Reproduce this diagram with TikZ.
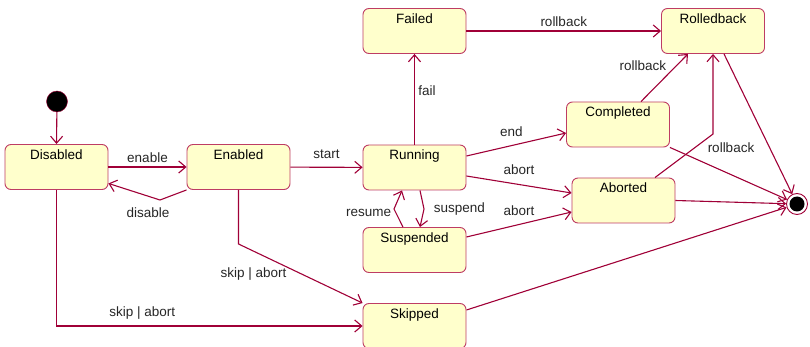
\documentclass[tikz,border=0pt]{standalone}
\usepackage{fontspec}
\setmainfont{Liberation Sans}
\usepackage{tikz}
\usetikzlibrary{arrows.meta}
\usepackage{xcolor}

\definecolor{edgered}{RGB}{160,0,55}
\definecolor{boxred}{RGB}{190,60,100}
\definecolor{stateyellow}{RGB}{255,255,204}

\begin{document}
\begin{tikzpicture}[x=1pt, y=-1pt,
    every node/.style={font=\fontsize{13.5}{16}\selectfont},
    state/.style={draw=boxred, line width=0.9pt, fill=stateyellow, rounded corners=6pt,
        minimum width=103pt, inner sep=0pt, text height=15pt, text depth=30pt},
    trans/.style={draw=edgered, line width=1.1pt, -{Straight Barb[length=7pt, width=12pt]}},
    lbl/.style={text=black!85}]
    \useasboundingbox (0, 0) rectangle (810, 347);

    \node[circle, fill=black, draw=edgered, inner sep=0pt, minimum size=21pt] (init) at (57, 101.5) {};
    \node[circle, fill=white, draw=edgered, line width=0.9pt, inner sep=0pt, minimum size=21pt,
        path picture={\fill[black] (path picture bounding box.center) circle (7.5pt);}] (final) at (797, 204) {};

    \node[state] (disabled) at (56.5, 167) {Disabled};
    \node[state] (enabled) at (238.5, 167) {Enabled};
    \node[state] (running) at (414.5, 167.5) {Running};
    \node[state] (failed) at (414.5, 31) {Failed};
    \node[state] (rolledback) at (713, 31) {Rolledback};
    \node[state] (completed) at (618, 124.5) {Completed};
    \node[state] (aborted) at (623.5, 200.5) {Aborted};
    \node[state] (suspended) at (414.5, 250) {Suspended};
    \node[state] (skipped) at (414.5, 326) {Skipped};

    \coordinate (disableBend) at (160, 200);
    \coordinate (suspendBend) at (424, 209);
    \coordinate (resumeBend) at (394, 209);
    \coordinate (skipBend) at (238.5, 244);
    \coordinate (rollbackBend) at (713, 134);

    \draw[trans] (init) -- (disabled.north);
    \draw[trans] (disabled) -- node[above, lbl] {enable} (enabled);
    \draw[trans] (enabled.south west) -- (disableBend) node[below, xshift=-12pt, yshift=-4pt, lbl] {disable}
        -- ([yshift=6.5pt]disabled.south east);
    \draw[trans] (enabled) -- node[above, yshift=5pt, lbl] {start} (running);
    \draw[trans] (running) -- node[right, pos=0.6, lbl] {fail} (failed);
    \draw[trans] (failed) -- node[above, lbl] {rollback} (rolledback);
    \draw[trans] ([yshift=11.5pt]running.east) -- node[above, pos=0.45, yshift=5pt, lbl] {end} ([yshift=-8.5pt]completed.west);
    \draw[trans] ([yshift=-8.5pt]running.east) -- node[above, yshift=6pt, lbl] {abort} ([yshift=7.5pt]aborted.west);
    \draw[trans] ([yshift=13pt]suspended.east) -- node[above, yshift=5pt, lbl] {abort} ([yshift=-11.5pt]aborted.west);
    \draw[trans] ([xshift=5.5pt]running.south) -- (suspendBend) node[right, xshift=6pt, lbl] {suspend}
        -- ([xshift=5.5pt]suspended.north);
    \draw[trans] ([xshift=-11.5pt]suspended.north) -- (resumeBend) node[left, xshift=1pt, yshift=-4pt, lbl] {resume}
        -- ([xshift=-12.5pt]running.south);
    \draw[trans] (enabled.south) -- (skipBend) -- node[left, pos=0.45, xshift=-4pt, yshift=-3pt, lbl] {skip | abort} (skipped.north west);
    \draw[trans] (disabled.south) |- node[above, pos=0.64, yshift=3pt, lbl] {skip | abort} (skipped.west);
    \draw[trans] ([xshift=23pt]completed.north) -- node[left, pos=0.7, xshift=-4pt, yshift=3pt, lbl] {rollback}
        ([xshift=-25pt]rolledback.south);
    \draw[trans] ([xshift=31.5pt]aborted.north) -- (rollbackBend) node[below, xshift=18pt, yshift=-5pt, lbl] {rollback}
        -- (rolledback.south);

    \draw[trans] ([yshift=16pt]skipped.east) -- (final);
    \draw[trans] (aborted.east) -- (final);
    \draw[trans] (completed.south east) -- (final);
    \draw[trans] ([xshift=11pt]rolledback.south) -- (final);
\end{tikzpicture}
\end{document}
